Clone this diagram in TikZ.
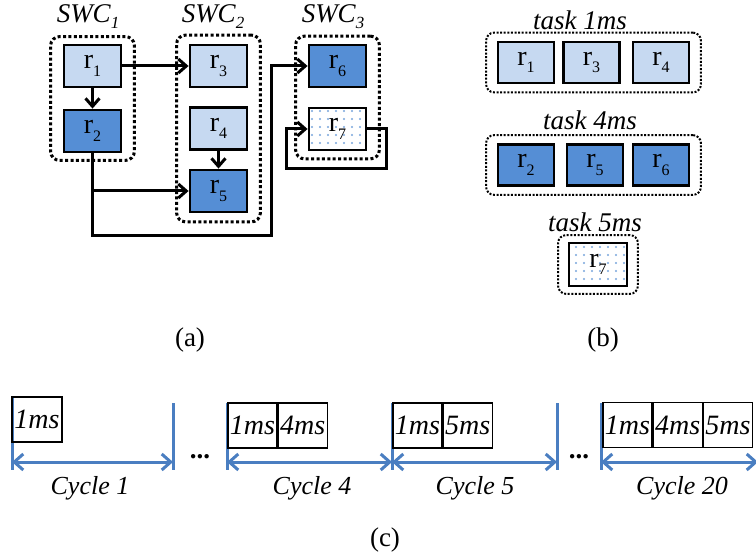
\documentclass[tikz,border=0pt]{standalone}
\usepackage{fontspec}
\setmainfont{Liberation Serif}
\usetikzlibrary{arrows.meta,fit,patterns.meta}

\newcommand{\rsub}[1]{r\raisebox{-0.27em}{\fontsize{16}{16}\selectfont #1}}
\newcommand{\swcsub}[1]{\textit{SWC\raisebox{-0.22em}{\fontsize{17}{17}\selectfont #1}}}

\tikzset{
  runbox/.style={draw=black, line width=2.8pt, minimum width=57pt, minimum height=42pt,
    inner sep=0pt, font=\fontsize{28}{28}\selectfont},
  lightrun/.style={runbox, fill=lightFill},
  darkrun/.style={runbox, fill=darkFill},
  dotrun/.style={runbox, pattern={Dots[distance=8pt, radius=1.1pt]}, pattern color=dotColor},
  smallrun/.style={minimum width=56pt, minimum height=41pt},
  swcgroup/.style={draw=black, line width=3pt, dash pattern=on 3pt off 2.4pt,
    rounded corners=9pt, inner sep=0pt},
  taskgroup/.style={draw=black, line width=2pt, dash pattern=on 2pt off 1.6pt,
    rounded corners=8pt, inner sep=0pt},
  grouplabel/.style={font=\fontsize{27}{27}\selectfont\itshape, inner sep=0pt},
  flow/.style={draw=black, line width=3pt, -{Straight Barb[length=8pt, width=14pt]}},
  slot/.style={draw=black, line width=1.2pt, minimum width=49pt, minimum height=45pt,
    inner sep=0pt, font=\fontsize{28}{28}\selectfont\itshape},
  tick/.style={draw=lineBlue, line width=3pt},
  span/.style={draw=lineBlue, line width=3pt,
    {Straight Barb[length=9pt, width=16pt]}-{Straight Barb[length=9pt, width=16pt]}},
  caption/.style={font=\fontsize{27}{27}\selectfont, inner sep=0pt}
}

\begin{document}
\begin{tikzpicture}[x=1pt,y=-1pt]
\definecolor{lightFill}{RGB}{198,217,241}
\definecolor{darkFill}{RGB}{85,142,213}
\definecolor{dotColor}{RGB}{120,165,220}
\definecolor{lineBlue}{RGB}{74,126,193}
\path[use as bounding box,fill=white] (0,0) rectangle (756,559);

\node[lightrun] (r1) at (92.5,66) {\rsub{1}};
\node[darkrun] (r2) at (92.5,131) {\rsub{2}};
\node[lightrun] (r3) at (218.5,66) {\rsub{3}};
\node[lightrun] (r4) at (218.5,128.5) {\rsub{4}};
\node[darkrun] (r5) at (218.5,191) {\rsub{5}};
\node[darkrun] (r6) at (337.5,66) {\rsub{6}};
\node[dotrun] (r7) at (337.5,129) {\rsub{7}};

\node[swcgroup, fit=(r1)(r2), inner xsep=12pt, inner ysep=7pt] (swc1) {};
\node[swcgroup, fit=(r3)(r5), inner xsep=12pt, inner ysep=8.5pt] (swc2) {};
\node[swcgroup, fit=(r6)(r7), inner xsep=12pt, inner ysep=7.5pt] (swc3) {};

\node[grouplabel] (swc1lab) at (88,17) {\swcsub{1}};
\node[grouplabel] (swc2lab) at (213,17) {\swcsub{2}};
\node[grouplabel] (swc3lab) at (333,17) {\swcsub{3}};

\coordinate (bend) at (271,236);
\coordinate (loopR) at (386,169);
\coordinate (loopL) at (286,169);

\draw[flow] (r1) -- (r2);
\draw[flow] (r4) -- (r5);
\draw[flow] (r1.east) -- (r3.west);
\draw[flow] (r2.south) |- (r5.west);
\draw[flow] (r2.south) |- (bend) |- (r6.west);
\draw[flow] (r7.east) -| (loopR) -- (loopL) |- (r7.west);

\node[lightrun, smallrun] (b1) at (526,62.5) {\rsub{1}};
\node[lightrun, smallrun] (b3) at (591.5,62.5) {\rsub{3}};
\node[lightrun, smallrun] (b4) at (661,62.5) {\rsub{4}};
\node[darkrun, smallrun] (b2) at (526,165) {\rsub{2}};
\node[darkrun, smallrun] (b5) at (595,165) {\rsub{5}};
\node[darkrun, smallrun] (b6) at (661,165) {\rsub{6}};
\node[dotrun, minimum width=58pt, minimum height=43pt] (b7) at (598,264.5) {\rsub{7}};

\node[taskgroup, fit=(b1)(b4), inner xsep=10.5pt, inner ysep=8pt] (task1) {};
\node[taskgroup, fit=(b2)(b6), inner xsep=10.5pt, inner ysep=8pt] (task4) {};
\node[taskgroup, fit=(b7), inner xsep=9.5pt, inner ysep=6.5pt] (task5) {};

\node[grouplabel] (task1lab) at (580,20) {task 1ms};
\node[grouplabel] (task4lab) at (590,120) {task 4ms};
\node[grouplabel] (task5lab) at (595,222) {task 5ms};

\node[caption] (capa) at (190,340) {(a)};
\node[caption] (capb) at (603,340) {(b)};
\node[caption] (capc) at (385,540) {(c)};

\foreach \x/\t in {12/397,173/403,227/403,392/403,557/403,601/403}
  \draw[tick] (\x,\t) -- (\x,470);

\coordinate (k0) at (12,462);
\coordinate (k1) at (173,462);
\coordinate (k2) at (227,462);
\coordinate (k3) at (392,462);
\coordinate (k4) at (557,462);
\coordinate (k5) at (601,462);
\coordinate (k6) at (758,462);

\draw[span] (k0) -- (k1);
\draw[span] (k2) -- (k3);
\draw[span] (k3) -- (k4);
\draw[span] (k5) -- (k6);

\node[slot, minimum width=50pt] (s1a) at (37,419.5) {1ms};
\node[slot] (s4a) at (252.5,425.5) {1ms};
\node[slot, anchor=west] (s4b) at (s4a.east) {4ms};
\node[slot] (s5a) at (417.5,425.5) {1ms};
\node[slot, anchor=west] (s5b) at (s5a.east) {5ms};
\node[slot] (s20a) at (627.5,425) {1ms};
\node[slot, anchor=west] (s20b) at (s20a.east) {4ms};
\node[slot, anchor=west] (s20c) at (s20b.east) {5ms};

\node[caption, font=\fontsize{26}{26}\selectfont\itshape] (cyc1) at (90,488) {Cycle 1};
\node[caption, font=\fontsize{26}{26}\selectfont\itshape] (cyc4) at (312,488) {Cycle 4};
\node[caption, font=\fontsize{26}{26}\selectfont\itshape] (cyc5) at (475,488) {Cycle 5};
\node[caption, font=\fontsize{26}{26}\selectfont\itshape] (cyc20) at (682,488) {Cycle 20};

\node[caption, font=\fontsize{27}{27}\selectfont\bfseries] (gap1) at (200,457) {...};
\node[caption, font=\fontsize{27}{27}\selectfont\bfseries] (gap2) at (579,457) {...};
\end{tikzpicture}
\end{document}
